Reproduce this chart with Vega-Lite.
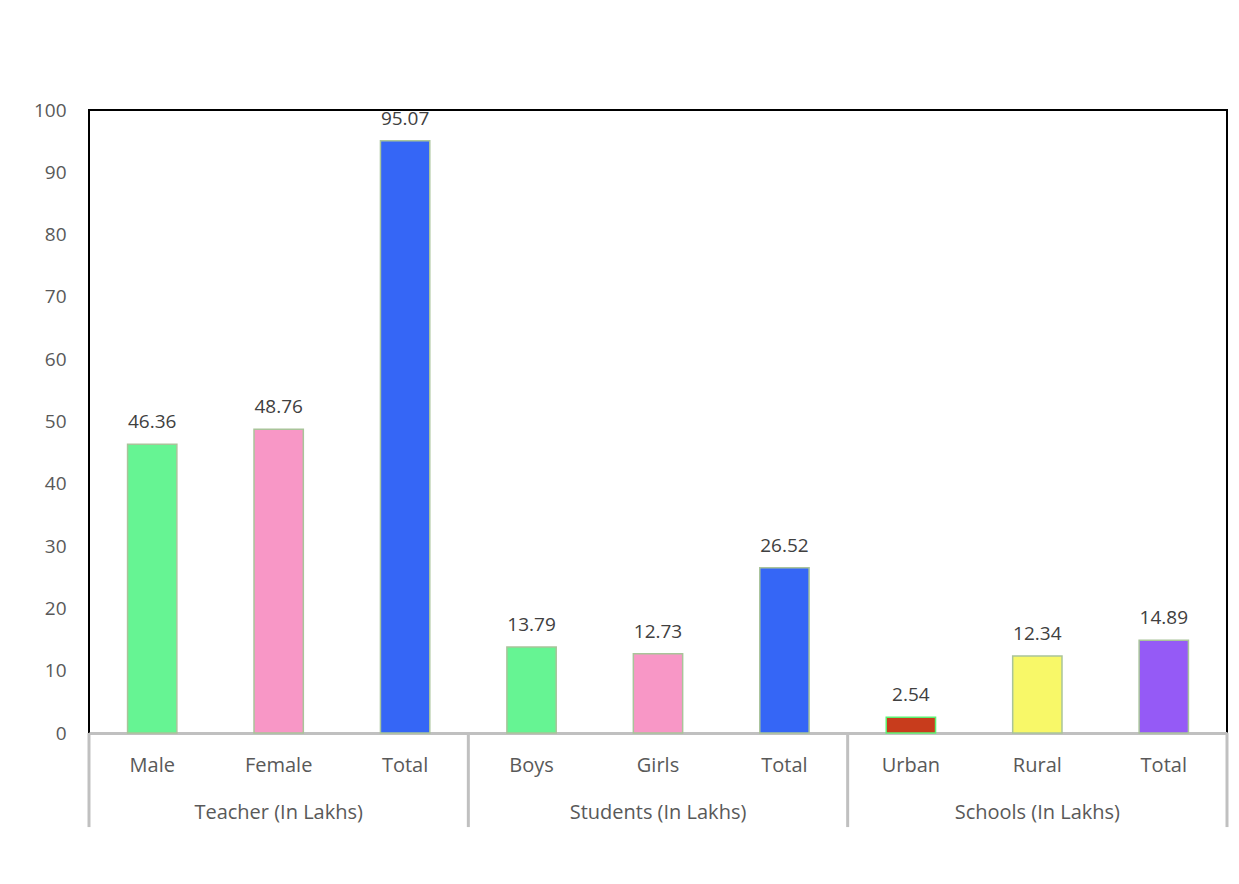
{
  "$schema": "https://vega.github.io/schema/vega-lite/v6.json",
  "autosize": {"type": "none"},
  "padding": {"left": 89, "top": 110, "right": 12, "bottom": 151},
  "width": 1138,
  "height": 623,
  "background": "white",
  "config": {
    "font": "Open Sans",
    "view": {"stroke": "#000000", "strokeWidth": 2}
  },
  "datasets": {
    "bars": [
      {"key": "Teacher (In Lakhs)|Male", "kind": "Male/Boys", "value": 46.36},
      {"key": "Teacher (In Lakhs)|Female", "kind": "Female/Girls", "value": 48.76},
      {"key": "Teacher (In Lakhs)|Total", "kind": "Total", "value": 95.07},
      {"key": "Students (In Lakhs)|Boys", "kind": "Male/Boys", "value": 13.79},
      {"key": "Students (In Lakhs)|Girls", "kind": "Female/Girls", "value": 12.73},
      {"key": "Students (In Lakhs)|Total", "kind": "Total", "value": 26.52},
      {"key": "Schools (In Lakhs)|Urban", "kind": "Urban", "value": 2.54},
      {"key": "Schools (In Lakhs)|Rural", "kind": "Rural", "value": 12.34},
      {"key": "Schools (In Lakhs)|Total", "kind": "Schools Total", "value": 14.89}
    ],
    "groupStarts": [
      {"key": "Teacher (In Lakhs)|Male"},
      {"key": "Students (In Lakhs)|Boys"},
      {"key": "Schools (In Lakhs)|Urban"}
    ],
    "groupEnd": [
      {"key": "Schools (In Lakhs)|Total"}
    ]
  },
  "layer": [
    {
      "data": {"name": "bars"},
      "mark": {"type": "bar", "width": {"band": 0.39}, "strokeWidth": 1.5},
      "encoding": {
        "x": {
          "field": "key", "type": "nominal", "sort": null,
          "scale": {"paddingInner": 0, "paddingOuter": 0},
          "axis": {
            "title": null,
            "labelAngle": 0,
            "labelExpr": "indexof(['Female','Girls','Rural'], split(datum.value,'|')[1]) >= 0 ? [split(datum.value,'|')[1], split(datum.value,'|')[0]] : split(datum.value,'|')[1]",
            "labelFont": "Open Sans",
            "labelFontSize": 20,
            "labelColor": "#595959",
            "labelPadding": 22,
            "labelLineHeight": 47,
            "labelBaseline": "top",
            "ticks": false,
            "domainColor": "#c0c0c0",
            "domainWidth": 3,
            "grid": false
          }
        },
        "y": {
          "field": "value", "type": "quantitative",
          "scale": {"domain": [0, 100], "nice": false, "zero": true},
          "axis": {
            "title": null,
            "values": [0, 10, 20, 30, 40, 50, 60, 70, 80, 90, 100],
            "labelFont": "Open Sans",
            "labelFontSize": 19,
            "labelColor": "#595959",
            "labelPadding": 23,
            "ticks": false,
            "domain": false,
            "grid": false
          }
        },
        "color": {
          "field": "kind", "type": "nominal", "legend": null,
          "scale": {
            "domain": ["Male/Boys", "Female/Girls", "Total", "Urban", "Rural", "Schools Total"],
            "range": ["#66f493", "#f897c6", "#3566f6", "#c83c1c", "#f8f868", "#955af6"]
          }
        },
        "stroke": {
          "condition": {"test": "datum.kind == 'Urban'", "value": "#5cf070"},
          "value": "#a9c49a"
        }
      }
    },
    {
      "data": {"name": "bars"},
      "mark": {"type": "text", "baseline": "bottom", "dy": -12, "font": "Open Sans", "fontSize": 19, "color": "#404040"},
      "encoding": {
        "x": {"field": "key", "type": "nominal", "sort": null},
        "y": {"field": "value", "type": "quantitative"},
        "text": {"field": "value", "type": "quantitative", "format": ".2f"}
      }
    },
    {
      "data": {"name": "groupStarts"},
      "mark": {"type": "rule", "color": "#c0c0c0", "strokeWidth": 3, "clip": false},
      "encoding": {
        "x": {"field": "key", "type": "nominal", "sort": null, "bandPosition": 0},
        "y": {"datum": 0},
        "y2": {"datum": -15.1}
      }
    },
    {
      "data": {"name": "groupEnd"},
      "mark": {"type": "rule", "color": "#c0c0c0", "strokeWidth": 3, "clip": false},
      "encoding": {
        "x": {"field": "key", "type": "nominal", "sort": null, "bandPosition": 1},
        "y": {"datum": 0},
        "y2": {"datum": -15.1}
      }
    }
  ]
}
